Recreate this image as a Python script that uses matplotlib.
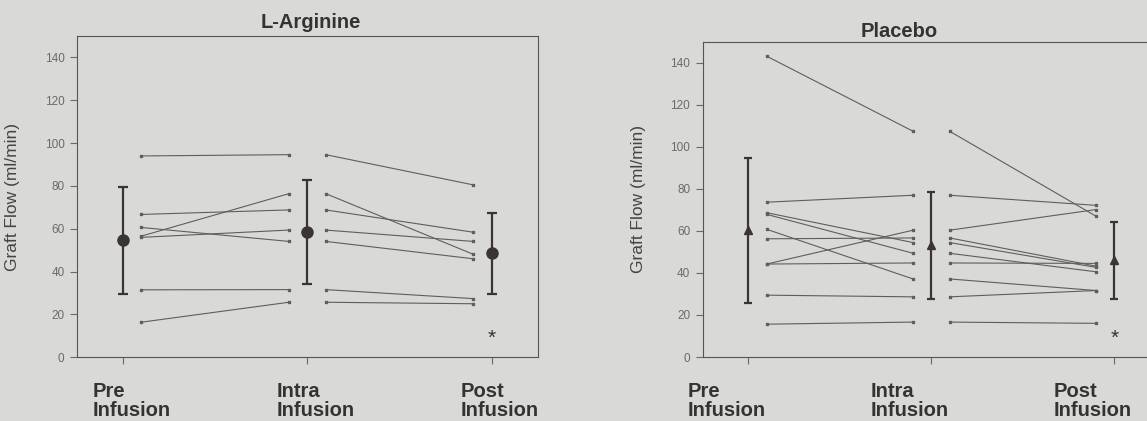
import matplotlib
matplotlib.use('Agg')
from matplotlib import pyplot as plt

plt.rcParams['font.family'] = ['Liberation Sans', 'DejaVu Sans']

phases = ['Pre\nInfusion', 'Intra\nInfusion', 'Post\nInfusion']
yticks = [0, 20, 40, 60, 80, 100, 120, 140]

# L-Arginine, one value per patient at each phase
arg_pre = [94.0, 66.7, 60.6, 56.6, 56.0, 31.5, 16.4]
arg_intra = [94.6, 68.8, 54.1, 76.4, 59.4, 31.6, 25.7]
arg_post = [80.5, 58.4, 46.0, 48.1, 54.1, 27.4, 25.0]
arg_mean = [54.7, 58.6, 48.6]
arg_low = [29.6, 34.3, 29.6]
arg_high = [79.7, 82.8, 67.4]
arg_star = 8.7

# Placebo
pla_pre = [143.0, 73.6, 68.6, 67.8, 60.7, 56.2, 44.2, 44.2, 29.4, 15.6]
pla_intra = [107.3, 76.9, 54.4, 49.3, 37.1, 56.6, 60.3, 44.7, 28.6, 16.6]
pla_post = [66.9, 72.1, 42.6, 40.5, 31.6, 43.2, 70.1, 44.5, 31.6, 16.0]
pla_mean = [60.4, 53.4, 46.0]
pla_low = [25.8, 27.6, 27.8]
pla_high = [94.5, 78.4, 64.4]
pla_star = 9.0

bg = '#d9dad7'
line_c = '#5e5e5e'
bar_c = '#3b3434'
text_c = '#333333'
tick_c = '#6a6a6a'

W, H = 1147, 421
fig = plt.figure(figsize=(W / 100, H / 100), dpi=100, facecolor=bg)


def draw_panel(ax, pre, intra, post, mean, low, high, star_y,
               marker, ms, cap, label_dx, label_y):
    ax.set_facecolor(bg)
    for p, i, q in zip(pre, intra, post):
        ax.plot([0.1, 0.9], [p, i], color=line_c, lw=0.8, marker='s', ms=1.8)
        ax.plot([1.1, 1.9], [i, q], color=line_c, lw=0.8, marker='s', ms=1.8)

    x = [0, 1, 2]
    yerr = [[m - l for m, l in zip(mean, low)], [h - m for m, h in zip(mean, high)]]
    ax.errorbar(x, mean, yerr=yerr, fmt=marker, color=bar_c, ms=ms,
                elinewidth=1.6, capsize=cap, capthick=1.6, zorder=5)

    ax.text(2, star_y, '*', ha='center', va='center', fontsize=15, color=text_c)

    ax.set_xlim(-0.25, 2.25)
    ax.set_ylim(0, 150)
    ax.set_yticks(yticks)
    ax.set_xticks(x)
    ax.set_xticklabels([])
    ax.tick_params(axis='both', direction='out', length=5, width=0.8,
                   color=tick_c, labelsize=8.5, labelcolor=tick_c, pad=4)
    for s in ax.spines.values():
        s.set_color('#555555')
        s.set_linewidth(0.8)

    ax.set_ylabel('Graft Flow (ml/min)', fontsize=12.5, color='#444444')

    tr = ax.get_xaxis_transform()
    for xi, lab in zip(x, phases):
        ax.text(xi + label_dx, label_y, lab, transform=tr, ha='left', va='baseline',
                fontsize=14.5, fontweight='bold', color=text_c, linespacing=1.0,
                clip_on=False)


ax1 = fig.add_axes([77 / W, 1 - 357.3 / H, 460.7 / W, 321.3 / H])
draw_panel(ax1, arg_pre, arg_intra, arg_post, arg_mean, arg_low, arg_high,
           arg_star, 'o', 8, 3.6, -0.166, -0.183)
ax1.yaxis.set_label_coords(-57 / 460.7, 0.5)

ax2 = fig.add_axes([702.7 / W, 1 - 357 / H, 457.5 / W, 315.5 / H])
draw_panel(ax2, pla_pre, pla_intra, pla_post, pla_mean, pla_low, pla_high,
           pla_star, '^', 5.5, 2.8, -0.333, -0.187)
ax2.yaxis.set_label_coords(-56.7 / 457.5, 0.5)

fig.text(311 / W, 1 - 27.7 / H, 'L-Arginine', ha='center', va='baseline',
         fontsize=14.5, fontweight='bold', color=text_c)
fig.text(899 / W, 1 - 37.3 / H, 'Placebo', ha='center', va='baseline',
         fontsize=14.5, fontweight='bold', color=text_c)

fig.savefig('out.png', dpi=100, facecolor=fig.get_facecolor())
